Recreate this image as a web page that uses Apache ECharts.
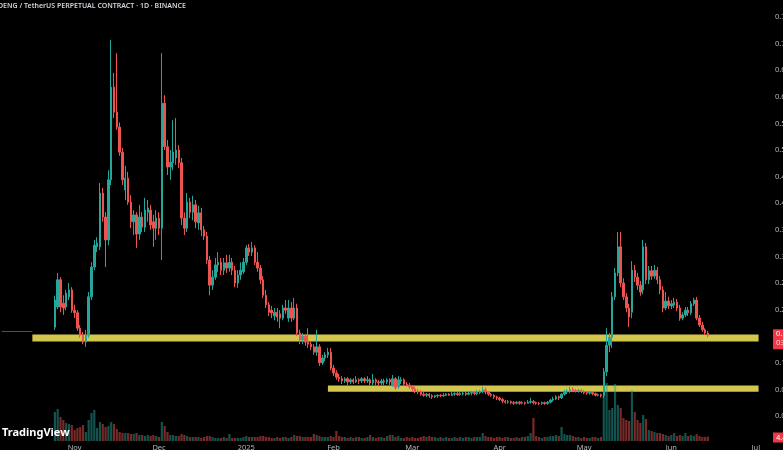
<!DOCTYPE html>
<html><head><meta charset="utf-8">
<script src="https://cdn.jsdelivr.net/npm/echarts@6/dist/echarts.min.js"></script>
<style>html,body{margin:0;padding:0;background:#000;overflow:hidden}#c{width:783px;height:450px}</style>
</head><body><div id="c"></div>
<script>
// ---- axis range / labels ----
const startDate = '2024-10-06';
const endDate = '2025-07-02';
const firstCandleDate = '2024-10-25';
const monthLabels = {'2024-11-01':'Nov','2024-12-01':'Dec','2025-01-01':'2025','2025-02-01':'Feb','2025-03-01':'Mar','2025-04-01':'Apr','2025-05-01':'May','2025-06-01':'Jun','2025-07-01':'Jul'};
const priceMin = 0, priceMax = 0.75, priceStep = 0.05;
const titleText = 'DENG / TetherUS PERPETUAL CONTRACT · 1D · BINANCE';
const countdownText = '03:14:27';
// ---- horizontal zones drawn on chart ----
const upperZone = {from: '2024-10-17', low: 0.140, high: 0.153};
const lowerZone = {from: '2025-01-30', low: 0.0457, high: 0.0573};
const leftLine = {from: '2024-10-06', to: '2024-10-17', value: 0.159};
// ---- daily candles [open, close, low, high] from firstCandleDate ----
const ohlc = [
[0.167,0.218,0.162,0.226],[0.205,0.256,0.201,0.269],[0.256,0.205,0.195,0.261],[0.212,0.203,0.190,0.227],
[0.205,0.231,0.199,0.237],[0.224,0.237,0.218,0.250],[0.237,0.199,0.194,0.242],[0.199,0.194,0.184,0.209],
[0.194,0.165,0.160,0.199],[0.165,0.152,0.147,0.171],[0.152,0.139,0.135,0.158],[0.139,0.152,0.130,0.162],
[0.152,0.224,0.147,0.233],[0.224,0.280,0.218,0.289],[0.280,0.321,0.274,0.331],[0.318,0.325,0.308,0.336],
[0.318,0.419,0.312,0.438],[0.419,0.374,0.365,0.429],[0.374,0.331,0.280,0.383],[0.331,0.444,0.321,0.462],
[0.444,0.618,0.434,0.707],[0.618,0.571,0.560,0.645],[0.571,0.543,0.538,0.682],[0.543,0.496,0.489,0.552],
[0.496,0.444,0.434,0.504],[0.425,0.447,0.406,0.470],[0.447,0.402,0.397,0.459],[0.402,0.365,0.353,0.415],
[0.365,0.378,0.340,0.387],[0.378,0.342,0.316,0.383],[0.342,0.374,0.331,0.397],[0.374,0.355,0.346,0.383],
[0.355,0.387,0.346,0.410],[0.383,0.391,0.365,0.406],[0.387,0.359,0.350,0.397],[0.365,0.353,0.318,0.378],
[0.353,0.372,0.331,0.387],[0.372,0.353,0.340,0.383],[0.353,0.588,0.293,0.682],[0.588,0.506,0.500,0.603],
[0.506,0.468,0.453,0.519],[0.468,0.477,0.444,0.500],[0.476,0.496,0.462,0.556],[0.485,0.500,0.472,0.560],
[0.500,0.476,0.466,0.509],[0.476,0.372,0.359,0.485],[0.372,0.353,0.340,0.383],[0.353,0.402,0.346,0.419],
[0.402,0.383,0.372,0.410],[0.383,0.397,0.368,0.414],[0.397,0.365,0.353,0.406],[0.363,0.382,0.350,0.395],
[0.382,0.350,0.338,0.391],[0.350,0.338,0.331,0.357],[0.338,0.293,0.286,0.346],[0.293,0.246,0.227,0.301],
[0.246,0.261,0.237,0.274],[0.261,0.284,0.256,0.297],[0.284,0.289,0.271,0.308],[0.289,0.274,0.265,0.297],
[0.274,0.288,0.265,0.297],[0.288,0.278,0.269,0.303],[0.278,0.289,0.271,0.303],[0.289,0.274,0.265,0.297],
[0.274,0.250,0.242,0.282],[0.250,0.265,0.241,0.274],[0.265,0.274,0.256,0.289],[0.271,0.289,0.267,0.297],
[0.289,0.316,0.284,0.321],[0.316,0.308,0.301,0.323],[0.308,0.316,0.301,0.327],[0.316,0.289,0.284,0.321],
[0.289,0.278,0.271,0.308],[0.278,0.256,0.248,0.284],[0.256,0.227,0.222,0.263],[0.227,0.209,0.203,0.237],
[0.209,0.195,0.188,0.214],[0.199,0.194,0.184,0.207],[0.188,0.195,0.180,0.203],[0.195,0.186,0.177,0.203],
[0.192,0.184,0.165,0.199],[0.184,0.203,0.180,0.209],[0.203,0.199,0.192,0.218],[0.184,0.203,0.177,0.218],
[0.203,0.184,0.177,0.214],[0.184,0.203,0.180,0.222],[0.203,0.156,0.150,0.211],[0.156,0.143,0.135,0.162],
[0.143,0.150,0.135,0.156],[0.150,0.139,0.132,0.154],[0.139,0.135,0.128,0.165],[0.135,0.130,0.124,0.141],
[0.130,0.120,0.115,0.135],[0.120,0.130,0.113,0.162],[0.130,0.100,0.094,0.135],[0.100,0.109,0.096,0.115],
[0.109,0.115,0.103,0.120],[0.115,0.120,0.109,0.128],[0.120,0.090,0.086,0.128],[0.090,0.081,0.075,0.096],
[0.081,0.073,0.068,0.086],[0.073,0.070,0.064,0.079],[0.070,0.066,0.060,0.075],[0.066,0.070,0.062,0.073],
[0.070,0.064,0.058,0.073],[0.064,0.068,0.060,0.071],[0.068,0.064,0.060,0.071],[0.064,0.068,0.062,0.075],
[0.068,0.066,0.060,0.071],[0.066,0.070,0.062,0.073],[0.070,0.066,0.062,0.073],[0.066,0.068,0.062,0.075],
[0.068,0.062,0.058,0.071],[0.062,0.068,0.058,0.079],[0.068,0.064,0.058,0.071],[0.064,0.062,0.056,0.068],
[0.062,0.066,0.058,0.070],[0.066,0.064,0.058,0.070],[0.064,0.068,0.060,0.071],[0.068,0.064,0.058,0.071],
[0.058,0.070,0.055,0.077],[0.070,0.053,0.049,0.073],[0.055,0.068,0.051,0.075],[0.066,0.068,0.060,0.073],
[0.068,0.060,0.056,0.071],[0.060,0.058,0.055,0.064],[0.058,0.055,0.051,0.062],[0.055,0.051,0.047,0.058],
[0.051,0.047,0.043,0.055],[0.047,0.045,0.041,0.051],[0.045,0.041,0.038,0.049],[0.041,0.039,0.036,0.045],
[0.039,0.041,0.036,0.043],[0.041,0.038,0.034,0.043],[0.038,0.036,0.032,0.041],[0.036,0.038,0.034,0.039],
[0.038,0.039,0.034,0.041],[0.039,0.038,0.036,0.041],[0.038,0.039,0.036,0.043],[0.039,0.041,0.038,0.043],
[0.041,0.039,0.038,0.043],[0.039,0.041,0.038,0.045],[0.041,0.042,0.038,0.045],[0.042,0.040,0.038,0.045],
[0.040,0.042,0.038,0.045],[0.042,0.043,0.039,0.047],[0.043,0.041,0.038,0.045],[0.041,0.043,0.039,0.047],
[0.043,0.044,0.039,0.047],[0.044,0.042,0.039,0.047],[0.042,0.044,0.039,0.049],[0.044,0.046,0.041,0.049],
[0.046,0.049,0.043,0.055],[0.049,0.045,0.041,0.053],[0.045,0.041,0.038,0.047],[0.041,0.039,0.036,0.043],
[0.039,0.036,0.032,0.041],[0.036,0.034,0.030,0.038],[0.034,0.031,0.028,0.036],[0.031,0.028,0.024,0.034],
[0.028,0.026,0.023,0.030],[0.026,0.027,0.023,0.030],[0.027,0.025,0.022,0.029],[0.025,0.024,0.021,0.028],
[0.024,0.026,0.022,0.028],[0.026,0.024,0.021,0.028],[0.024,0.025,0.022,0.028],[0.025,0.024,0.021,0.027],
[0.024,0.026,0.023,0.030],[0.026,0.027,0.023,0.034],[0.027,0.025,0.022,0.030],[0.025,0.024,0.021,0.027],
[0.024,0.0235,0.020,0.026],[0.0235,0.025,0.021,0.027],[0.025,0.0235,0.021,0.027],[0.0235,0.026,0.021,0.028],
[0.026,0.030,0.0235,0.032],[0.030,0.032,0.027,0.036],[0.032,0.036,0.030,0.039],[0.036,0.034,0.030,0.0385],
[0.034,0.041,0.032,0.043],[0.041,0.045,0.0385,0.049],[0.045,0.047,0.041,0.051],[0.047,0.050,0.043,0.055],
[0.050,0.048,0.045,0.054],[0.048,0.047,0.044,0.051],[0.047,0.048,0.044,0.051],[0.048,0.046,0.043,0.051],
[0.046,0.044,0.041,0.049],[0.044,0.043,0.040,0.047],[0.043,0.044,0.040,0.047],[0.044,0.042,0.039,0.046],
[0.042,0.039,0.037,0.044],[0.039,0.040,0.037,0.042],[0.040,0.038,0.035,0.042],[0.038,0.083,0.034,0.090],
[0.083,0.133,0.075,0.165],[0.133,0.148,0.120,0.156],[0.148,0.224,0.128,0.233],[0.224,0.269,0.218,0.278],
[0.269,0.318,0.263,0.346],[0.318,0.250,0.242,0.346],[0.250,0.224,0.218,0.259],[0.224,0.203,0.195,0.231],
[0.203,0.186,0.167,0.211],[0.195,0.274,0.184,0.291],[0.274,0.261,0.252,0.284],[0.261,0.246,0.237,0.269],
[0.246,0.233,0.226,0.254],[0.237,0.318,0.229,0.331],[0.318,0.256,0.248,0.325],[0.256,0.273,0.248,0.282],
[0.273,0.263,0.256,0.282],[0.263,0.274,0.258,0.284],[0.274,0.256,0.248,0.280],[0.256,0.237,0.229,0.263],
[0.237,0.203,0.195,0.244],[0.203,0.216,0.199,0.233],[0.216,0.207,0.201,0.224],[0.207,0.211,0.201,0.218],
[0.209,0.214,0.203,0.222],[0.214,0.203,0.197,0.220],[0.203,0.184,0.179,0.209],[0.184,0.190,0.180,0.195],
[0.190,0.199,0.186,0.205],[0.199,0.194,0.188,0.205],[0.194,0.211,0.190,0.216],[0.211,0.218,0.207,0.222],
[0.218,0.184,0.180,0.224],[0.184,0.171,0.167,0.190],[0.171,0.162,0.158,0.177],[0.162,0.156,0.152,0.165],
[0.156,0.152,0.148,0.160]
];
// ---- daily volume (millions) from firstCandleDate ----
const volumes = [
29,32,24,21,18,17,16,11,13,14,16,9,21,28,31,13,19,17,14,15,19,17,
12,9,8,8,8,7,7,8,6,6,5,6,5,6,5,4,
19,15,9,6,6,5,5,7,6,5,4,4,4,4,
3,4,5,5,4,3,3,3,4,3,7,3,3,3,3,4,5,4,4,4,
4,5,5,4,4,3,3,4,3,4,4,3,4,6,5,5,4,4,4,4,
7,6,5,4,4,4,5,4,10,5,4,4,3,4,3,4,4,3,3,4,
6,4,3,4,4,3,5,6,6,4,5,3,3,4,3,4,3,3,4,5,
4,5,4,4,3,4,3,4,3,3,4,3,4,3,4,4,3,4,4,4,
8,5,4,4,3,4,4,3,4,4,3,3,4,3,4,4,5,8,23,5,
4,3,4,4,5,5,6,5,14,7,6,6,5,4,4,3,4,3,3,4,4,3,4,
45,58,31,33,57,36,33,23,21,20,51,29,21,18,26,22,11,10,9,8,8,
7,6,5,6,8,5,6,5,8,5,6,5,7,5,4,4,4.4
];

const UP = '#26a69a', DOWN = '#ef5350';
const categories = [];
for (let t = Date.parse(startDate + 'T00:00:00Z'); t <= Date.parse(endDate + 'T00:00:00Z'); t += 86400000) {
  categories.push(new Date(t).toISOString().slice(0, 10));
}
const off = categories.indexOf(firstCandleDate);
const candleData = ohlc.map((r, k) => [categories[off + k], r[0], r[1], r[2], r[3]]);
const volData = volumes.map((v, k) => [categories[off + k], v, ohlc[k][1] >= ohlc[k][0] ? 1 : -1]);
const lastCat = categories[categories.length - 1];

const chart = echarts.init(document.getElementById('c'), null, {renderer: 'canvas'});
const GL = 0, GW = 760;
chart.setOption({
  backgroundColor: '#000000',
  animation: false,
  grid: [
    {left: GL, width: GW, top: 17, height: 399, containLabel: false, outerBoundsMode: 'none'},
    {left: GL, width: GW, top: 380, height: 61, containLabel: false, outerBoundsMode: 'none'}
  ],
  xAxis: [
    {type: 'category', data: categories, gridIndex: 0, show: false, boundaryGap: true},
    {type: 'category', data: categories, gridIndex: 1, boundaryGap: true,
     axisLine: {show: false}, axisTick: {show: false}, splitLine: {show: false},
     axisLabel: {color: '#b2b5be', fontSize: 7.5, fontFamily: 'Noto Sans', margin: 3,
       interval: (i, v) => monthLabels.hasOwnProperty(v),
       formatter: v => monthLabels[v] || ''}}
  ],
  yAxis: [
    {type: 'value', gridIndex: 0, position: 'right', min: priceMin, max: priceMax, interval: priceStep,
     axisLine: {show: false}, axisTick: {show: false}, splitLine: {show: false},
     axisLabel: {color: '#b2b5be', fontSize: 7.5, fontFamily: 'Noto Sans', margin: 15, formatter: v => v.toFixed(4)}},
    {type: 'value', gridIndex: 1, min: 0, max: 61, show: false}
  ],
  series: [
    {type: 'bar', xAxisIndex: 1, yAxisIndex: 1, data: volData, encode: {x: 0, y: 1}, barWidth: '78%', z: 1,
     itemStyle: {color: p => p.data[2] > 0 ? 'rgba(38,166,154,0.5)' : 'rgba(239,83,80,0.5)'}},
    {type: 'candlestick', xAxisIndex: 0, yAxisIndex: 0, data: candleData, encode: {x: 0, y: [1, 2, 3, 4]},
     barWidth: '68%', z: 3,
     itemStyle: {color: UP, color0: DOWN, borderColor: UP, borderColor0: DOWN, borderWidth: 1},
     markArea: {silent: true, itemStyle: {color: '#d3c64d'},
       data: [
         [{xAxis: upperZone.from, yAxis: upperZone.high}, {xAxis: lastCat, yAxis: upperZone.low}],
         [{xAxis: lowerZone.from, yAxis: lowerZone.high}, {xAxis: lastCat, yAxis: lowerZone.low}]
       ]},
     markLine: {silent: true, symbol: 'none', label: {show: false}, lineStyle: {color: '#505050', width: 1, type: 'solid'},
       data: [[{xAxis: leftLine.from, yAxis: leftLine.value}, {xAxis: leftLine.to, yAxis: leftLine.value}]]}
    }
  ]
});

const last = ohlc[ohlc.length - 1];
const lastVol = volumes[volumes.length - 1];
const py = chart.convertToPixel({yAxisIndex: 0}, last[1]);
const vy = chart.convertToPixel({yAxisIndex: 1}, lastVol);
chart.setOption({
  graphic: [
    {type: 'text', left: -2, top: 2, z: 10, style: {text: titleText, fill: '#d1d4dc', font: '600 7px "Noto Sans"'}},
    {type: 'text', left: 2, top: 427, z: 10, style: {text: 'TradingView', fill: '#ffffff', font: 'bold 11px "Noto Sans"'}},
    {type: 'rect', shape: {x: 773, y: py - 6, width: 40, height: 20}, z: 10, style: {fill: '#f23645'}},
    {type: 'text', x: 776, y: py - 5, z: 11, style: {text: last[1].toFixed(4), fill: '#ffffff', font: '7.5px "Noto Sans"'}},
    {type: 'text', x: 776, y: py + 4, z: 11, style: {text: countdownText, fill: '#ffd0d4', font: '7.5px "Noto Sans"'}},
    {type: 'rect', shape: {x: 773, y: vy - 4, width: 40, height: 10}, z: 10, style: {fill: '#f23645'}},
    {type: 'text', x: 776, y: vy - 3, z: 11, style: {text: lastVol.toFixed(2) + 'M', fill: '#ffffff', font: '7.5px "Noto Sans"'}}
  ]
});
</script>
</body></html>
